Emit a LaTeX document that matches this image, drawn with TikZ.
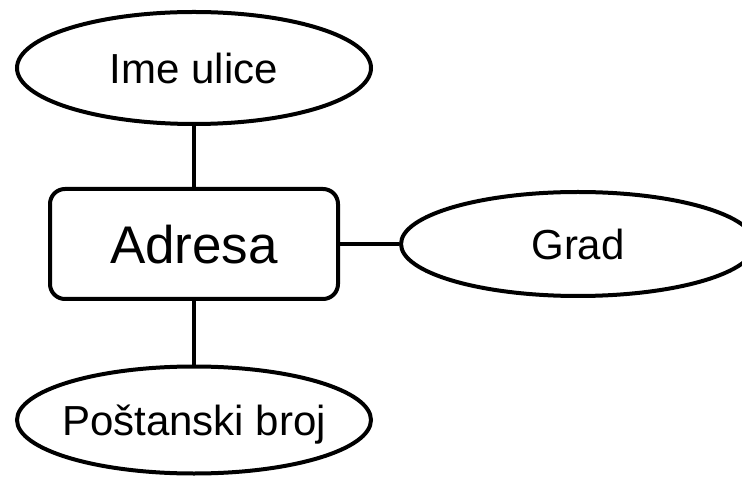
\documentclass[tikz,border=0pt]{standalone}
\usepackage{fontspec}
\setmainfont{Liberation Sans}
\usepackage{tikz}
\usetikzlibrary{shapes.geometric}

\begin{document}
\begin{tikzpicture}[x=0.5pt,y=0.5pt,line width=2pt,
	attr/.style={draw,ellipse,inner ysep=0pt,inner xsep=-20pt,text depth=0pt,minimum width=177pt,font=\fontsize{21}{25}\selectfont},
	entity/.style={draw,rounded corners=7.5pt,inner sep=0pt,text depth=0pt,minimum width=144pt,minimum height=55pt,font=\fontsize{26.5}{30}\selectfont}]

\useasboundingbox (0,0) rectangle (742,476);

% entity
\node[entity] (adresa) at (194,232) {Adresa};

% attributes
\node[attr,minimum height=56pt] (ulica) at (194,408) {Ime ulice};
\node[attr,minimum height=52pt] (grad) at (578,232) {Grad};
\node[attr,minimum height=53.5pt] (broj) at (194,56) {Poštanski broj};

% links
\draw (ulica) -- (adresa);
\draw (adresa) -- (grad);
\draw (adresa) -- (broj);

\end{tikzpicture}
\end{document}
